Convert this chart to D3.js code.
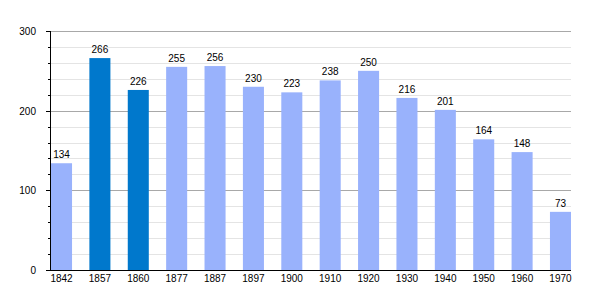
<!DOCTYPE html>
<html>
<head>
<meta charset="utf-8">
<script src="https://d3js.org/d3.v7.min.js"></script>
<style>
  body { margin: 0; background: #fff; }
  text { font-family: "Liberation Sans", Arial, sans-serif; font-size: 10px; fill: #000; }
</style>
</head>
<body>
<div class="chart"></div>
<script>
const years = ["1842", "1857", "1860", "1877", "1887", "1897", "1900", "1910", "1920", "1930", "1940", "1950", "1960", "1970"];
const population = [134, 266, 226, 255, 256, 230, 223, 238, 250, 216, 201, 164, 148, 73];
const highlighted = ["1857", "1860"];
const yTicks = [0, 100, 200, 300];

const width = 600, height = 300;
const plotLeft = 50, plotRight = 571, plotTop = 31, plotBottom = 270;

const svg = d3.select(".chart").append("svg")
    .attr("width", width)
    .attr("height", height);

// bars sit at the left of each slot, last bar ends at the plot edge
const x = d3.scaleBand().domain(years).range([plotLeft + 1, plotRight])
    .paddingInner(0.452).paddingOuter(0).align(0);
const y = d3.scaleLinear().domain([0, 300]).range([plotBottom, plotTop]);
const barW = x.bandwidth();
const minorTicks = d3.range(20, 300, 20).filter(v => v % 100 !== 0);

// minor grid every 20
svg.append("g").selectAll("line")
    .data(minorTicks)
    .enter().append("line")
    .attr("x1", plotLeft).attr("x2", plotRight)
    .attr("y1", d => Math.round(y(d)) + 0.5).attr("y2", d => Math.round(y(d)) + 0.5)
    .attr("stroke", "#e4e4e4");

// major grid
svg.append("g").selectAll("line")
    .data(yTicks.slice(1))
    .enter().append("line")
    .attr("x1", plotLeft).attr("x2", plotRight)
    .attr("y1", d => Math.round(y(d)) + 0.5).attr("y2", d => Math.round(y(d)) + 0.5)
    .attr("stroke", "#a8a8a8");

// bars
svg.append("g").selectAll("rect")
    .data(years)
    .enter().append("rect")
    .attr("x", d => x(d))
    .attr("width", barW)
    .attr("y", (d, i) => y(population[i]))
    .attr("height", (d, i) => plotBottom - y(population[i]))
    .attr("fill", d => highlighted.includes(d) ? "#0078cc" : "#99b2fc");

// value labels
svg.append("g").selectAll("text")
    .data(years)
    .enter().append("text")
    .attr("x", d => x(d) + barW / 2)
    .attr("y", (d, i) => y(population[i]) - 5)
    .attr("text-anchor", "middle")
    .text((d, i) => population[i]);

// y axis
const yAxis = svg.append("g");
yAxis.append("line")
    .attr("x1", plotLeft + 0.5).attr("x2", plotLeft + 0.5)
    .attr("y1", plotTop).attr("y2", plotBottom)
    .attr("stroke", "#000");
yAxis.selectAll(".minor")
    .data(minorTicks)
    .enter().append("line")
    .attr("x1", plotLeft - 2).attr("x2", plotLeft)
    .attr("y1", d => Math.round(y(d)) + 0.5).attr("y2", d => Math.round(y(d)) + 0.5)
    .attr("stroke", "#000");
yAxis.selectAll(".major")
    .data(yTicks)
    .enter().append("line")
    .attr("x1", plotLeft - 4).attr("x2", plotLeft)
    .attr("y1", d => Math.round(y(d)) + 0.5).attr("y2", d => Math.round(y(d)) + 0.5)
    .attr("stroke", "#000");
yAxis.selectAll("text")
    .data(yTicks)
    .enter().append("text")
    .attr("x", 36)
    .attr("y", d => y(d) + 4)
    .attr("text-anchor", "end")
    .text(d => d);

// x axis
svg.append("line")
    .attr("x1", plotLeft).attr("x2", plotRight)
    .attr("y1", plotBottom + 0.5).attr("y2", plotBottom + 0.5)
    .attr("stroke", "#000");
svg.append("g").selectAll("text")
    .data(years)
    .enter().append("text")
    .attr("x", d => x(d) + barW / 2)
    .attr("y", 282)
    .attr("text-anchor", "middle")
    .text(d => d);
</script>
</body>
</html>
